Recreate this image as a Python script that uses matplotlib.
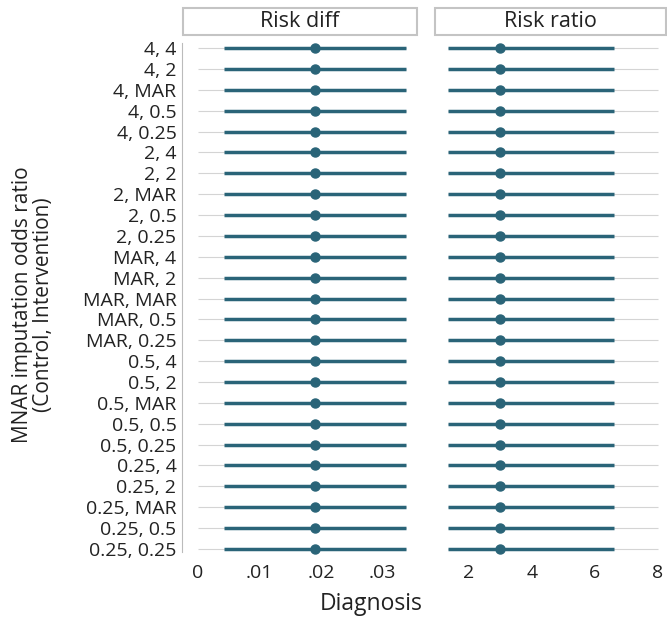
import matplotlib
matplotlib.use("Agg")
import matplotlib.pyplot as plt
from matplotlib.patches import Rectangle

plt.rcParams['font.family'] = ['Open Sans', 'DejaVu Sans']

# rows, top to bottom
labels = ['4, 4', '4, 2', '4, MAR', '4, 0.5', '4, 0.25',
          '2, 4', '2, 2', '2, MAR', '2, 0.5', '2, 0.25',
          'MAR, 4', 'MAR, 2', 'MAR, MAR', 'MAR, 0.5', 'MAR, 0.25',
          '0.5, 4', '0.5, 2', '0.5, MAR', '0.5, 0.5', '0.5, 0.25',
          '0.25, 4', '0.25, 2', '0.25, MAR', '0.25, 0.5', '0.25, 0.25']
n = len(labels)

# risk difference: estimate and 95% CI
rd_est = [0.0190] * n
rd_lo = [0.0042] * n
rd_hi = [0.0338] * n

# risk ratio: estimate and 95% CI
rr_est = [2.98] * n
rr_lo = [1.33] * n
rr_hi = [6.62] * n

rd_ticks = [0, 0.01, 0.02, 0.03]
rd_ticklabels = ['0', '.01', '.02', '.03']
rr_ticks = [2, 4, 6, 8]
rr_ticklabels = ['2', '4', '6', '8']

col = '#2a6478'
gridcol = '#d4d4d4'
txtcol = '#222222'
W, H = 667, 624

fig = plt.figure(figsize=(W / 100, H / 100), dpi=100)

def px_axes(x0, x1, y0, y1):
    return fig.add_axes([x0 / W, 1 - y1 / H, (x1 - x0) / W, (y1 - y0) / H])

ax1 = px_axes(182, 418, 37, 560)
ax2 = px_axes(434, 667, 37, 560)

rows = list(range(n))
panels = [
    (ax1, rd_est, rd_lo, rd_hi, rd_ticks, rd_ticklabels, (-0.0026, 0.0358), (0, 0.0338), 'Risk diff'),
    (ax2, rr_est, rr_lo, rr_hi, rr_ticks, rr_ticklabels, (0.89, 8.29), (1.33, 8), 'Risk ratio'),
]

for ax, est, lo, hi, ticks, tlabels, xlim, grange, title in panels:
    ax.hlines(rows, grange[0], grange[1], color=gridcol, lw=0.8, zorder=1)
    ax.hlines(rows, lo, hi, color=col, lw=2.5, zorder=2)
    ax.plot(est, rows, 'o', color=col, ms=6.5, zorder=3)
    ax.set_xlim(*xlim)
    ax.set_ylim(n - 0.47, -0.53)
    ax.set_xticks(ticks)
    ax.set_xticklabels(tlabels, fontsize=14, color=txtcol)
    ax.tick_params(axis='x', length=0, pad=3)
    for s in ['top', 'right', 'bottom', 'left']:
        ax.spines[s].set_visible(False)
    ax.patch.set_visible(False)
    # facet strip
    x0, x1 = ax.get_position().x0, ax.get_position().x1
    fig.patches.append(Rectangle((x0 + 1 / W, 1 - 35 / H), (x1 - x0) - 2 / W, 27 / H,
                                 transform=fig.transFigure, facecolor='white',
                                 edgecolor='#c4c4c4', lw=1.5))
    fig.text((x0 + x1) / 2, 1 - 21.5 / H, title, ha='center', va='center',
             fontsize=15.5, color=txtcol)

ax1.set_yticks(rows)
ax1.set_yticklabels(labels, fontsize=14, color=txtcol)
ax1.tick_params(axis='y', length=0, pad=4)
ax1.spines['left'].set_visible(True)
ax1.spines['left'].set_color('#bbbbbb')
ax1.spines['left'].set_linewidth(0.8)
ax1.spines['left'].set_bounds(-0.25, n - 0.85)
ax2.set_yticks([])

fig.text(33 / W, 1 - 305 / H, 'MNAR imputation odds ratio\n(Control, Intervention)',
         rotation=90, ha='center', va='center', fontsize=15, color=txtcol,
         linespacing=0.95)
fig.text(371 / W, 1 - 604 / H, 'Diagnosis', ha='center', va='center',
         fontsize=16.5, color=txtcol)

fig.savefig('out.png', dpi=100)
